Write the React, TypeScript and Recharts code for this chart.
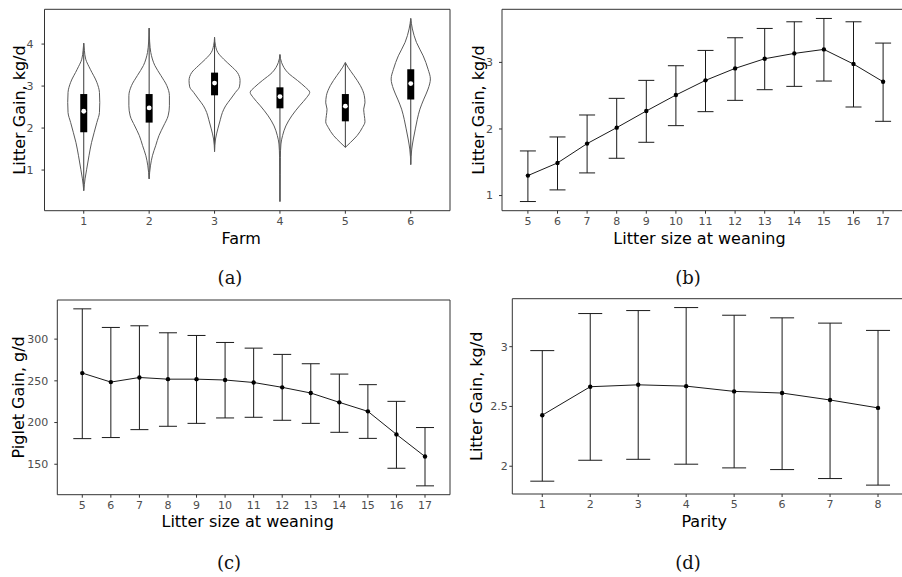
import React from 'react';
import { ComposedChart, Scatter, Line, XAxis, YAxis, ErrorBar, ReferenceArea } from 'recharts';

// (a) Litter gain by farm: violin outlines read top -> bottom, half widths in farm units
const farms = [1, 2, 3, 4, 5, 6];
const violinLevels = [
  [4.02, 3.85, 3.64, 3.40, 3.09, 2.85, 2.61, 2.37, 2.13, 1.90, 1.66, 1.34, 1.02, 0.79, 0.51],
  [4.38, 4.05, 3.80, 3.49, 3.25, 3.01, 2.77, 2.53, 2.29, 2.05, 1.82, 1.58, 1.34, 1.10, 0.79],
  [4.16, 3.96, 3.80, 3.64, 3.48, 3.32, 3.13, 2.98, 2.85, 2.69, 2.53, 2.37, 2.21, 1.98, 1.74, 1.44],
  [3.75, 3.56, 3.32, 3.13, 2.97, 2.85, 2.73, 2.53, 2.29, 2.05, 1.82, 1.62, 1.30, 0.90, 0.25],
  [3.56, 3.45, 3.25, 3.01, 2.77, 2.60, 2.45, 2.30, 2.15, 2.01, 1.82, 1.66, 1.54],
  [4.61, 4.36, 4.04, 3.72, 3.40, 3.17, 2.93, 2.69, 2.45, 2.21, 1.98, 1.74, 1.50, 1.13],
];
const violinWidths = [
  [0, 0.01, 0.03, 0.10, 0.20, 0.24, 0.245, 0.24, 0.20, 0.16, 0.12, 0.08, 0.045, 0.02, 0],
  [0, 0.008, 0.025, 0.087, 0.18, 0.27, 0.31, 0.31, 0.29, 0.22, 0.15, 0.10, 0.05, 0.02, 0],
  [0, 0.015, 0.05, 0.14, 0.25, 0.35, 0.39, 0.38, 0.32, 0.245, 0.17, 0.12, 0.09, 0.05, 0.015, 0],
  [0, 0.025, 0.12, 0.27, 0.39, 0.455, 0.41, 0.30, 0.18, 0.09, 0.04, 0.015, 0.006, 0.004, 0],
  [0, 0.04, 0.13, 0.23, 0.29, 0.30, 0.28, 0.29, 0.30, 0.26, 0.18, 0.08, 0],
  [0, 0.025, 0.087, 0.19, 0.265, 0.30, 0.265, 0.20, 0.14, 0.10, 0.07, 0.04, 0.015, 0],
];
const boxQ1 = [1.90, 2.13, 2.78, 2.47, 2.16, 2.68];
const boxMedian = [2.40, 2.48, 3.07, 2.75, 2.52, 3.06];
const boxQ3 = [2.81, 2.81, 3.32, 2.97, 2.81, 3.40];

// (b) Litter gain by litter size at weaning
const litterSizes = [5, 6, 7, 8, 9, 10, 11, 12, 13, 14, 15, 16, 17];
const litterMean = [1.30, 1.49, 1.78, 2.02, 2.27, 2.51, 2.73, 2.91, 3.055, 3.135, 3.195, 2.975, 2.71];
const litterUpper = [1.67, 1.88, 2.21, 2.46, 2.73, 2.95, 3.18, 3.37, 3.51, 3.61, 3.66, 3.61, 3.29];
const litterLower = [0.91, 1.085, 1.34, 1.56, 1.80, 2.05, 2.26, 2.43, 2.59, 2.64, 2.72, 2.33, 2.115];

// (c) Piglet gain by litter size at weaning
const pigletMean = [259.3, 248.5, 254, 252, 252, 251, 248, 242.2, 235.4, 224.2, 213.4, 185.8, 159.2];
const pigletUpper = [336.3, 314, 316, 307.6, 304.4, 296, 289.2, 281.7, 270.5, 258.1, 245.4, 225.4, 194];
const pigletLower = [180.7, 182, 191.5, 195.5, 199, 205.5, 206.3, 202.7, 199, 188.3, 181, 145.2, 124.1];

// (d) Litter gain by parity
const parities = [1, 2, 3, 4, 5, 6, 7, 8];
const parityMean = [2.427, 2.665, 2.681, 2.67, 2.626, 2.612, 2.554, 2.488];
const parityUpper = [2.967, 3.277, 3.302, 3.327, 3.263, 3.241, 3.197, 3.136];
const parityLower = [1.875, 2.05, 2.058, 2.017, 1.986, 1.972, 1.897, 1.842];

const INK = '#333333';
const TICK_TEXT = { fill: '#4d4d4d', fontSize: 11 };
const TITLE = { fill: '#000', fontSize: 16 };

// ggplot-like 5% expansion
const expand = (lo: number, hi: number): [number, number] => [lo - (hi - lo) * 0.05, hi + (hi - lo) * 0.05];

const noShape = () => <g />;
const whiteDot = (p: any) => <circle cx={p.cx} cy={p.cy} r={2.4} fill="#ffffff" />;

const ViolinPanel = () => {
  const xDomain: [number, number] = [farms[0] - 0.6, farms[farms.length - 1] + 0.6];
  const allY = violinLevels.flat();
  const yDomain = expand(Math.min(...allY), Math.max(...allY));

  const sides = farms.flatMap((f, i) =>
    [-1, 1].map(side => ({
      key: `v-${f}-${side}`,
      data: violinLevels[i].map((y, j) => ({ x: f + side * violinWidths[i][j], y })),
    }))
  );

  const boxData = farms.map((f, i) => {
    const lv = violinLevels[i];
    const med = boxMedian[i];
    return {
      x: f,
      y: med,
      whisk: [med - lv[lv.length - 1], lv[0] - med],
      box: [med - boxQ1[i], boxQ3[i] - med],
    };
  });

  return (
    <ComposedChart width={460} height={260} margin={{ top: 9.3, right: 10, bottom: 16, left: 0 }}>
      <XAxis
        type="number"
        dataKey="x"
        domain={xDomain}
        ticks={farms}
        allowDataOverflow
        axisLine={false}
        tickLine={{ stroke: INK }}
        tickSize={3}
        tickMargin={3}
        tick={TICK_TEXT}
        height={33.3}
        label={{ value: 'Farm', position: 'insideBottom', offset: 0, dx: -6, ...TITLE }}
      />
      <YAxis
        type="number"
        dataKey="y"
        domain={yDomain}
        ticks={[1, 2, 3, 4]}
        allowDataOverflow
        axisLine={false}
        tickLine={{ stroke: INK }}
        tickSize={3}
        tickMargin={8}
        tick={TICK_TEXT}
        width={44.5}
        label={{ value: 'Litter Gain, kg/d', angle: -90, position: 'insideLeft', offset: 19, style: { textAnchor: 'middle' }, ...TITLE }}
      />
      <ReferenceArea x1={xDomain[0]} x2={xDomain[1]} y1={yDomain[0]} y2={yDomain[1]} fill="none" stroke={INK} ifOverflow="visible" />
      {sides.map(s => (
        <Scatter
          key={s.key}
          data={s.data}
          line={{ stroke: '#5a5a5a', strokeWidth: 1 }}
          lineJointType="monotoneY"
          shape={noShape}
          isAnimationActive={false}
        />
      ))}
      <Scatter data={boxData} shape={noShape} isAnimationActive={false}>
        <ErrorBar dataKey="whisk" direction="y" width={0} stroke="#3a3a3a" strokeWidth={1} />
        <ErrorBar dataKey="box" direction="y" width={0} stroke="#000" strokeWidth={7} />
      </Scatter>
      <Scatter data={boxData} shape={whiteDot} isAnimationActive={false} />
    </ComposedChart>
  );
};

interface ErrorPanelProps {
  xs: number[];
  mean: number[];
  upper: number[];
  lower: number[];
  yTicks: number[];
  xLabel: string;
  yLabel: string;
  margin: { top: number; right: number; bottom: number; left: number };
  yAxisWidth: number;
  xAxisHeight: number;
  yLabelX: number;
  yTickMargin: number;
  capWidth: number;
}

const ErrorPanel = (p: ErrorPanelProps) => {
  const data = p.xs.map((x, i) => ({
    x,
    mean: p.mean[i],
    err: [p.mean[i] - p.lower[i], p.upper[i] - p.mean[i]],
  }));
  const xDomain = expand(p.xs[0] - 0.25, p.xs[p.xs.length - 1] + 0.25);
  const yDomain = expand(Math.min(...p.lower), Math.max(...p.upper));

  return (
    <ComposedChart width={460} height={260} data={data} margin={p.margin}>
      <XAxis
        type="number"
        dataKey="x"
        domain={xDomain}
        ticks={p.xs}
        interval={0}
        allowDataOverflow
        axisLine={false}
        tickLine={{ stroke: INK }}
        tickSize={3}
        tickMargin={3}
        tick={TICK_TEXT}
        height={p.xAxisHeight}
        label={{ value: p.xLabel, position: 'insideBottom', offset: 0, dx: -6, ...TITLE }}
      />
      <YAxis
        type="number"
        domain={yDomain}
        ticks={p.yTicks}
        allowDataOverflow
        axisLine={false}
        tickLine={{ stroke: INK }}
        tickSize={3}
        tickMargin={p.yTickMargin}
        tick={TICK_TEXT}
        width={p.yAxisWidth}
        label={{ value: p.yLabel, angle: -90, position: 'insideLeft', offset: p.yLabelX, style: { textAnchor: 'middle' }, ...TITLE }}
      />
      <ReferenceArea x1={xDomain[0]} x2={xDomain[1]} y1={yDomain[0]} y2={yDomain[1]} fill="none" stroke={INK} ifOverflow="visible" />
      <Line
        type="linear"
        dataKey="mean"
        stroke="#1a1a1a"
        strokeWidth={1}
        dot={{ r: 2.2, fill: '#000', stroke: '#000', strokeWidth: 0 }}
        isAnimationActive={false}
      >
        <ErrorBar dataKey="err" direction="y" width={p.capWidth} stroke="#1a1a1a" strokeWidth={1} />
      </Line>
    </ComposedChart>
  );
};

const captionStyle = (cx: number, cy: number): React.CSSProperties => ({
  position: 'absolute',
  left: cx - 30,
  top: cy - 11,
  width: 60,
  lineHeight: '22px',
  textAlign: 'center',
  fontFamily: '"DejaVu Serif", serif',
  fontSize: 18,
  color: '#111',
});

export default function App() {
  return (
    <div
      style={{
        position: 'absolute',
        left: 0,
        top: 0,
        width: 902,
        height: 577,
        overflow: 'hidden',
        background: '#fff',
        fontFamily: '"DejaVu Sans", sans-serif',
      }}
    >
      <div style={{ position: 'absolute', left: 0, top: 0 }}>
        <ViolinPanel />
      </div>
      <div style={{ position: 'absolute', left: 460, top: 0 }}>
        <ErrorPanel
          xs={litterSizes}
          mean={litterMean}
          upper={litterUpper}
          lower={litterLower}
          yTicks={[1, 2, 3]}
          xLabel="Litter size at weaning"
          yLabel="Litter Gain, kg/d"
          margin={{ top: 9.3, right: 11, bottom: 16, left: 0 }}
          yAxisWidth={42}
          xAxisHeight={33.3}
          yLabelX={18.3}
          yTickMargin={6}
          capWidth={8}
        />
      </div>
      <div style={{ position: 'absolute', left: 0, top: 290 }}>
        <ErrorPanel
          xs={litterSizes}
          mean={pigletMean}
          upper={pigletUpper}
          lower={pigletLower}
          yTicks={[150, 200, 250, 300]}
          xLabel="Litter size at weaning"
          yLabel="Piglet Gain, g/d"
          margin={{ top: 10, right: 10, bottom: 23, left: 0 }}
          yAxisWidth={57.3}
          xAxisHeight={32.3}
          yLabelX={18.7}
          yTickMargin={6}
          capWidth={9}
        />
      </div>
      <div style={{ position: 'absolute', left: 460, top: 290 }}>
        <ErrorPanel
          xs={parities}
          mean={parityMean}
          upper={parityUpper}
          lower={parityLower}
          yTicks={[2, 2.5, 3]}
          xLabel="Parity"
          yLabel="Litter Gain, kg/d"
          margin={{ top: 8.7, right: 12, bottom: 23, left: 0 }}
          yAxisWidth={52.3}
          xAxisHeight={33}
          yLabelX={16.5}
          yTickMargin={1.5}
          capWidth={12}
        />
      </div>
      <div style={captionStyle(230, 278)}>(a)</div>
      <div style={captionStyle(688, 278)}>(b)</div>
      <div style={captionStyle(229, 563)}>(c)</div>
      <div style={captionStyle(688, 563)}>(d)</div>
    </div>
  );
}
